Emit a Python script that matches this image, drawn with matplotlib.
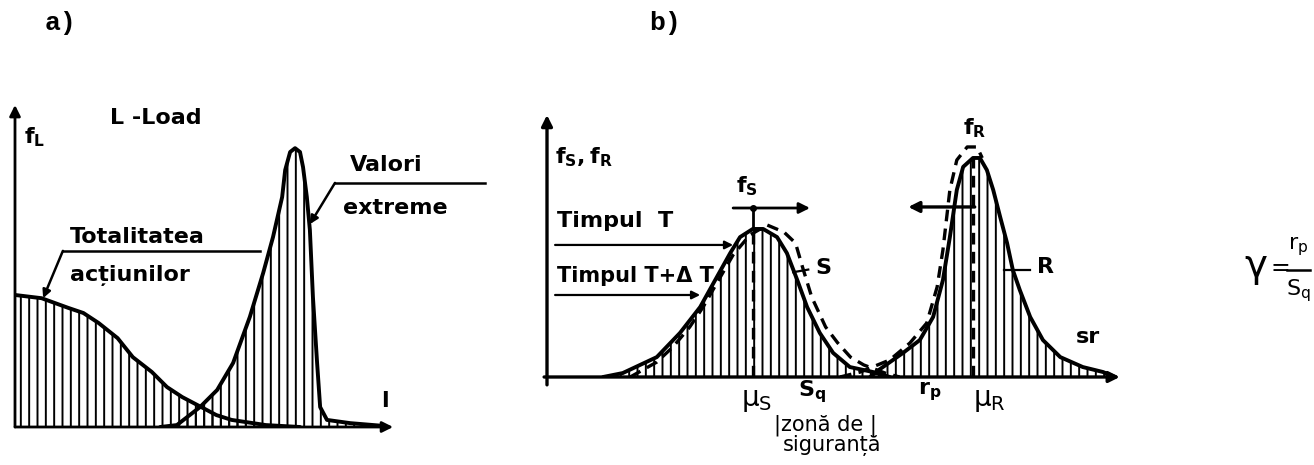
import matplotlib.pyplot as plt
import numpy as np

plt.rcParams['mathtext.default'] = 'regular'
plt.rcParams['hatch.linewidth'] = 1.4
plt.rcParams['font.family'] = ['DejaVu Sans']

# a) load densities: l on the horizontal axis, f_L on the vertical one
total_l = [0, 0.7, 1.4, 1.8, 2.2, 2.7, 3.1, 3.6, 4.0, 4.4, 4.9, 5.3, 5.7, 6.6, 7.5]
total_f = [0.41, 0.40, 0.37, 0.354, 0.323, 0.276, 0.217, 0.171, 0.124, 0.093,
           0.062, 0.037, 0.022, 0.006, 0.0]

extreme_l = [3.82, 4.26, 4.87, 5.32, 5.74, 6.18, 6.53, 6.79, 7.03, 7.11, 7.24,
             7.37, 7.5, 7.58, 7.68, 7.76, 7.84, 7.95, 8.03, 8.21, 8.82, 9.74]
extreme_f = [0.0, 0.006, 0.062, 0.115, 0.199, 0.342, 0.478, 0.590, 0.714, 0.798,
             0.854, 0.866, 0.854, 0.807, 0.714, 0.612, 0.404, 0.199, 0.062, 0.022,
             0.012, 0.003]

# b) stress S and resistance R at time T (solid) and T + dT (dashed)
s_x = [0.97, 1.31, 1.90, 2.30, 2.65, 2.94, 3.17, 3.34, 3.56, 3.74, 3.98, 4.15,
       4.33, 4.50, 4.72, 4.95, 5.24, 5.64, 5.93]
s_f = [0.0, 0.015, 0.076, 0.168, 0.267, 0.382, 0.473, 0.534, 0.565, 0.565,
       0.534, 0.473, 0.370, 0.267, 0.168, 0.092, 0.038, 0.019, 0.0]

s2_x = [1.44, 1.90, 2.18, 2.47, 2.70, 2.94, 3.22, 3.51, 3.81, 4.10, 4.30, 4.42,
        4.58, 4.82, 5.03, 5.25, 5.48, 5.85, 6.10]
s2_f = [0.0, 0.057, 0.115, 0.191, 0.267, 0.359, 0.466, 0.542, 0.580, 0.553,
        0.511, 0.420, 0.305, 0.191, 0.130, 0.076, 0.046, 0.015, 0.0]

r_x = [5.59, 5.76, 6.16, 6.45, 6.68, 6.85, 6.97, 7.09, 7.20, 7.37, 7.49, 7.61,
       7.72, 7.84, 7.96, 8.06, 8.18, 8.36, 8.58, 8.88, 9.27, 9.62, 9.83]
r_f = [0.0, 0.03, 0.092, 0.141, 0.229, 0.370, 0.534, 0.714, 0.802, 0.836, 0.836,
       0.790, 0.714, 0.611, 0.511, 0.408, 0.332, 0.229, 0.141, 0.076, 0.038,
       0.019, 0.0]

r2_x = [5.07, 5.42, 5.93, 6.28, 6.57, 6.75, 6.85, 6.97, 7.09, 7.27, 7.44, 7.53]
r2_f = [0.0, 0.019, 0.065, 0.130, 0.206, 0.344, 0.485, 0.714, 0.828, 0.878,
        0.878, 0.836]

mu_s, mu_s_peak = 3.56, 0.565
mu_r, mu_r_peak = 7.37, 0.836


def arrow(ax, x0, y0, x1, y1, lw=2.0, scale=16):
    ax.annotate('', xy=(x1, y1), xytext=(x0, y0),
                arrowprops=dict(arrowstyle='-|>', lw=lw, color='k',
                                mutation_scale=scale, shrinkA=0, shrinkB=0),
                annotation_clip=False)


def hatched(ax, x, y):
    ax.fill_between(x, y, 0, facecolor='none', edgecolor='k', hatch='||', linewidth=0)
    ax.plot(x, y, color='k', lw=2.8, solid_capstyle='round', solid_joinstyle='round')


fig = plt.figure(figsize=(13.14, 4.65), dpi=100)
txt = dict(fontsize=16, fontweight='bold', clip_on=False)

# ---------------- panel a ----------------
ax_a = fig.add_axes([15 / 1314, 1 - 427 / 465, 380 / 1314, 322 / 465])
ax_a.set_xlim(0, 10)
ax_a.set_ylim(0, 1)
ax_a.axis('off')

arrow(ax_a, 0, 0, 9.95, 0)
arrow(ax_a, 0, 0, 0, 1.0)
hatched(ax_a, total_l, total_f)
hatched(ax_a, extreme_l, extreme_f)

ax_a.text(0.24, 0.90, '$f_L$', va='center', ha='left', **txt)
ax_a.text(2.5, 0.96, 'L -Load', va='center', ha='left', **txt)
ax_a.text(9.74, 0.08, 'l', va='center', ha='center', **txt)
ax_a.text(1.45, 0.59, 'Totalitatea', va='center', ha='left', **txt)
ax_a.text(1.45, 0.472, 'acțiunilor', va='center', ha='left', **txt)
ax_a.plot([6.45, 1.26], [0.547, 0.547], color='k', lw=1.8, clip_on=False)
arrow(ax_a, 1.26, 0.547, 0.74, 0.40, lw=1.8, scale=12)
ax_a.text(8.82, 0.814, 'Valori', va='center', ha='left', **txt)
ax_a.text(8.63, 0.68, 'extreme', va='center', ha='left', **txt)
ax_a.plot([12.37, 8.42], [0.758, 0.758], color='k', lw=1.8, clip_on=False)
arrow(ax_a, 8.42, 0.758, 7.76, 0.63, lw=1.8, scale=12)

# ---------------- panel b ----------------
ax_b = fig.add_axes([547 / 1314, 1 - 377 / 465, 578 / 1314, 262 / 465])
ax_b.set_xlim(0, 10)
ax_b.set_ylim(0, 1)
ax_b.axis('off')

arrow(ax_b, -0.05, 0, 9.91, 0, lw=2.4)
arrow(ax_b, 0, -0.03, 0, 1.0, lw=2.4)

hatched(ax_b, s_x, s_f)
hatched(ax_b, r_x, r_f)
dash = (0, (3.5, 2.2))
ax_b.plot(s2_x, s2_f, color='k', lw=2.4, ls=dash)
ax_b.plot(r2_x, r2_f, color='k', lw=2.4, ls=dash)
ax_b.plot([mu_s, mu_s], [0, mu_s_peak], color='k', lw=2.4, ls=dash)
ax_b.plot([mu_r, mu_r], [0, mu_r_peak], color='k', lw=2.4, ls=dash)

# shift of the two densities with time
ax_b.plot([mu_s, mu_s], [mu_s_peak, 0.645], color='k', lw=2)
ax_b.plot([mu_s], [0.645], 'ko', ms=4)
arrow(ax_b, 3.22, 0.645, 4.55, 0.645, lw=2)
arrow(ax_b, 7.40, 0.649, 6.25, 0.649, lw=2.4)

ax_b.text(0.14, 0.84, '$f_S, f_R$', va='center', ha='left', **txt)
ax_b.text(3.46, 0.73, '$f_S$', va='center', ha='center', **txt)
ax_b.text(7.40, 0.95, '$f_R$', va='center', ha='center', **txt)

ax_b.text(0.17, 0.595, 'Timpul  T', va='center', ha='left', **txt)
arrow(ax_b, 0.14, 0.504, 3.22, 0.504, lw=1.6, scale=12)
ax_b.text(0.17, 0.385, 'Timpul T+Δ T', va='center', ha='left',
          fontsize=15, fontweight='bold', clip_on=False)
arrow(ax_b, 0.14, 0.313, 2.65, 0.313, lw=1.6, scale=12)

ax_b.plot([4.26, 4.52], [0.40, 0.41], color='k', lw=1.6)
ax_b.text(4.64, 0.416, 'S', va='center', ha='left', **txt)
ax_b.plot([7.9, 8.36], [0.41, 0.41], color='k', lw=1.6)
ax_b.text(8.48, 0.42, 'R', va='center', ha='left', **txt)
ax_b.text(9.36, 0.153, 'sr', va='center', ha='center', **txt)

ax_b.text(3.63, -0.088, r'$\mu_S$', va='center', ha='center', fontsize=20, clip_on=False)
ax_b.text(4.58, -0.057, '$S_q$', va='center', ha='center', **txt)
ax_b.text(6.63, -0.057, '$r_p$', va='center', ha='center', **txt)
ax_b.text(7.66, -0.088, r'$\mu_R$', va='center', ha='center', fontsize=20, clip_on=False)
ax_b.text(4.81, -0.183, '|zonă de |', va='center', ha='center', fontsize=15, clip_on=False)
ax_b.text(4.93, -0.262, 'siguranță', va='center', ha='center', fontsize=15, clip_on=False)

# safety factor
fig.text(1256 / 1314, 1 - 266 / 465, 'γ', fontsize=28, ha='center', va='center')
fig.text(1280 / 1314, 1 - 268 / 465, '=', fontsize=17, ha='center', va='center')
fig.text(1298 / 1314, 1 - 247 / 465, '$r_p$', fontsize=16, ha='center', va='center')
fig.text(1298 / 1314, 1 - 291 / 465, '$S_q$', fontsize=16, ha='center', va='center')
fig.add_artist(plt.Line2D([1287 / 1314, 1310 / 1314], [1 - 270 / 465, 1 - 270 / 465],
                          color='k', lw=1.8))

fig.text(60 / 1314, 1 - 23 / 465, 'a)', fontsize=19, fontweight='bold',
         family='Liberation Mono', ha='center', va='center')
fig.text(665 / 1314, 1 - 23 / 465, 'b)', fontsize=19, fontweight='bold',
         family='Liberation Mono', ha='center', va='center')

fig.savefig('out.png', dpi=100, facecolor='white')
